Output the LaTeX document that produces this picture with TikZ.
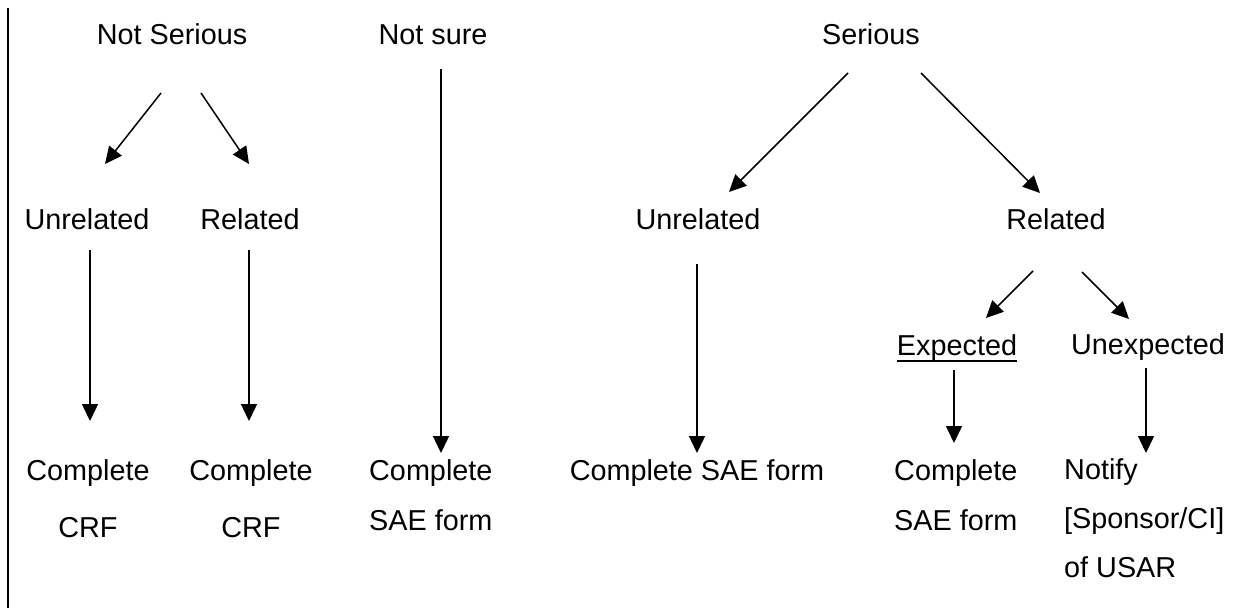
\documentclass[tikz,border=0pt]{standalone}
\usepackage{fontspec}
\setmainfont{Liberation Sans}
\usetikzlibrary{arrows.meta}
\begin{document}
\begin{tikzpicture}[x=1pt,y=-1pt,
  lbl/.style={inner sep=0pt,anchor=base,font=\fontsize{28.8}{34}\selectfont},
  lblw/.style={lbl,anchor=base west},
  conn/.style={line width=1.5pt,-{Triangle[length=17pt,width=16pt]}}]
\useasboundingbox (0,0) rectangle (1235,608);
\draw[line width=2.4pt] (8,8) -- (8,608);
% top level
\node[lbl] (ns) at (172,44) {Not Serious};
\node[lbl] (nsure) at (433,44) {Not sure};
\node[lbl] (ser) at (871,44) {Serious};
% second level
\node[lbl] (u1) at (87,229) {Unrelated};
\node[lbl] (r1) at (250,229) {Related};
\node[lbl] (u2) at (698,229) {Unrelated};
\node[lbl] (r2) at (1056,229) {Related};
% third level
\node[lbl] (exp) at (957,355) {Expected};
\draw[line width=2.2pt] ([yshift=-6pt]exp.base west) -- ([yshift=-6pt]exp.base east);
\node[lbl] (unexp) at (1148,354) {Unexpected};
% outcomes
\node[lbl] (c1a) at (88,480) {Complete};
\node[lbl] (c1b) at (88,537) {CRF};
\node[lbl] (c2a) at (251,480) {Complete};
\node[lbl] (c2b) at (251,537) {CRF};
\node[lblw] (c3a) at (369,480) {Complete};
\node[lblw] (c3b) at (369,530) {SAE form};
\node[lbl] (c4) at (697,480) {Complete SAE form};
\node[lblw] (c5a) at (894,480) {Complete};
\node[lblw] (c5b) at (894,530) {SAE form};
\node[lblw] (n1) at (1064,479) {Notify};
\node[lblw] (n2) at (1064,528) {[Sponsor/CI]};
\node[lblw] (n3) at (1064,577) {of USAR};
% connector end points
\coordinate (ns-s1) at (161,93);  \coordinate (ns-e1) at (105,164);
\coordinate (ns-s2) at (201,93);  \coordinate (ns-e2) at (249,164);
\coordinate (u1-s) at (90,250);   \coordinate (u1-e) at (90,421);
\coordinate (r1-s) at (249,250);  \coordinate (r1-e) at (249,421);
\coordinate (nsure-s) at (441,69); \coordinate (nsure-e) at (441,453);
\coordinate (ser-s1) at (848,73); \coordinate (ser-e1) at (729,192);
\coordinate (ser-s2) at (921,73); \coordinate (ser-e2) at (1040,193);
\coordinate (u2-s) at (697,264);  \coordinate (u2-e) at (697,453);
\coordinate (r2-s1) at (1033,271); \coordinate (r2-e1) at (986,318);
\coordinate (r2-s2) at (1082,272); \coordinate (r2-e2) at (1129,319);
\coordinate (exp-s) at (954,370); \coordinate (exp-e) at (954,443);
\coordinate (unexp-s) at (1146,368); \coordinate (unexp-e) at (1146,453);
% connectors
\draw[conn] (ns-s1) -- (ns-e1);
\draw[conn] (ns-s2) -- (ns-e2);
\draw[conn] (u1-s) -- (u1-e);
\draw[conn] (r1-s) -- (r1-e);
\draw[conn] (nsure-s) -- (nsure-e);
\draw[conn] (ser-s1) -- (ser-e1);
\draw[conn] (ser-s2) -- (ser-e2);
\draw[conn] (u2-s) -- (u2-e);
\draw[conn] (r2-s1) -- (r2-e1);
\draw[conn] (r2-s2) -- (r2-e2);
\draw[conn] (exp-s) -- (exp-e);
\draw[conn] (unexp-s) -- (unexp-e);
\end{tikzpicture}
\end{document}
